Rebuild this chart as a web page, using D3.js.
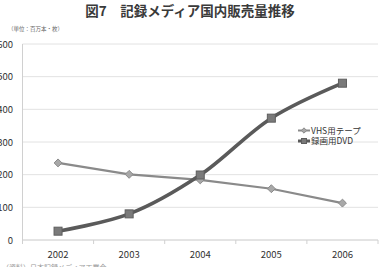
<!DOCTYPE html>
<html lang="ja">
<head>
<meta charset="UTF-8">
<title>図7 記録メディア国内販売量推移</title>
<script src="https://d3js.org/d3.v7.min.js"></script>
<style>
  html, body { margin: 0; padding: 0; background: #fff; }
  svg { display: block; font-family: "Noto Sans CJK JP", "Noto Sans", sans-serif; }
</style>
</head>
<body>
<div id="chart"></div>
<script>
const years = ["2002", "2003", "2004", "2005", "2006"];
const vhs = [236, 201, 184, 157, 113];
const dvd = [27, 80, 199, 373, 480];
const yTicks = [0, 100, 200, 300, 400, 500, 600];
const seriesNames = ["VHS用テープ", "録画用DVD"];

const width = 381, height = 267;
const margin = {top: 44, right: 3, bottom: 27, left: 22.5};

const svg = d3.select("#chart").append("svg")
    .attr("width", width)
    .attr("height", height);

// title
svg.append("text")
    .attr("x", 190).attr("y", 16)
    .attr("text-anchor", "middle")
    .attr("font-size", 13.5)
    .attr("font-weight", "bold")
    .attr("fill", "#3a3a3a")
    .text("図7　記録メディア国内販売量推移");

svg.append("text")
    .attr("x", 8).attr("y", 31)
    .attr("font-size", 5.5)
    .attr("fill", "#666")
    .text("（単位：百万本・枚）");

const x = d3.scaleBand()
    .domain(years)
    .range([margin.left, width - margin.right]);

const y = d3.scaleLinear()
    .domain([0, 600])
    .range([height - margin.bottom, margin.top]);

// grid lines
svg.append("g")
    .selectAll("line")
    .data(yTicks)
    .enter().append("line")
    .attr("x1", margin.left)
    .attr("x2", width - margin.right)
    .attr("y1", d => y(d))
    .attr("y2", d => y(d))
    .attr("stroke", d => d === 0 ? "#c8c8c8" : "#e2e2e2")
    .attr("stroke-width", 1);

// y axis line
svg.append("line")
    .attr("x1", margin.left).attr("x2", margin.left)
    .attr("y1", y(600)).attr("y2", y(0))
    .attr("stroke", "#d0d0d0");

// y labels (left edge clipped as in the source image)
svg.append("g")
    .selectAll("text")
    .data(yTicks)
    .enter().append("text")
    .attr("x", 13)
    .attr("y", d => y(d) + 3.5)
    .attr("text-anchor", "end")
    .attr("font-size", 9.5)
    .attr("fill", "#333")
    .text(d => d);

// x axis ticks at category boundaries
const bounds = years.map(d => x(d)).concat([x(years[years.length - 1]) + x.bandwidth()]);
svg.append("g")
    .selectAll("line")
    .data(bounds)
    .enter().append("line")
    .attr("x1", d => d).attr("x2", d => d)
    .attr("y1", y(0)).attr("y2", y(0) + 4)
    .attr("stroke", "#d0d0d0");

svg.append("g")
    .selectAll("text")
    .data(years)
    .enter().append("text")
    .attr("x", d => x(d) + x.bandwidth() / 2)
    .attr("y", y(0) + 18)
    .attr("text-anchor", "middle")
    .attr("font-size", 9.5)
    .attr("fill", "#333")
    .text(d => d);

const cx = (d, i) => x(years[i]) + x.bandwidth() / 2;

// VHS line
const vhsLine = d3.line().x(cx).y(d => y(d));
svg.append("path")
    .datum(vhs)
    .attr("d", vhsLine)
    .attr("fill", "none")
    .attr("stroke", "#8a8a8a")
    .attr("stroke-width", 2.2);

// DVD smoothed line
const dvdLine = d3.line().x(cx).y(d => y(d)).curve(d3.curveCatmullRom.alpha(0.5));
svg.append("path")
    .datum(dvd)
    .attr("d", dvdLine)
    .attr("fill", "none")
    .attr("stroke", "#5a5a5a")
    .attr("stroke-width", 3.6);

// VHS diamonds
const diamond = d3.symbol().type(d3.symbolDiamond2).size(40);
svg.append("g")
    .selectAll("path")
    .data(vhs)
    .enter().append("path")
    .attr("d", diamond)
    .attr("transform", (d, i) => `translate(${cx(d, i)},${y(d)})`)
    .attr("fill", "#a8a8a8")
    .attr("stroke", "#8a8a8a")
    .attr("stroke-width", 1);

// DVD squares
svg.append("g")
    .selectAll("rect")
    .data(dvd)
    .enter().append("rect")
    .attr("x", (d, i) => cx(d, i) - 4)
    .attr("y", d => y(d) - 4)
    .attr("width", 8).attr("height", 8)
    .attr("fill", "#7a7a7a")
    .attr("stroke", "#5e5e5e")
    .attr("stroke-width", 1);

// legend
const legend = svg.append("g").attr("transform", "translate(298,130.5)");
seriesNames.forEach((name, i) => {
    const g = legend.append("g").attr("transform", `translate(0,${i * 10.5})`);
    g.append("line")
        .attr("x1", 0).attr("x2", 12)
        .attr("stroke", i === 0 ? "#8a8a8a" : "#5a5a5a")
        .attr("stroke-width", i === 0 ? 2 : 3);
    if (i === 0) {
        g.append("path").attr("d", d3.symbol().type(d3.symbolDiamond2).size(18))
            .attr("transform", "translate(6,0)")
            .attr("fill", "#a8a8a8").attr("stroke", "#8a8a8a");
    } else {
        g.append("rect").attr("x", 3.5).attr("y", -2.5).attr("width", 5).attr("height", 5)
            .attr("fill", "#7a7a7a").attr("stroke", "#5e5e5e");
    }
    g.append("text")
        .attr("x", 13).attr("y", 3.2)
        .attr("font-size", 8.5)
        .attr("fill", "#333")
        .text(name);
});

// source note (mostly cut off at bottom)
svg.append("text")
    .attr("x", 2).attr("y", 270)
    .attr("font-size", 7)
    .attr("fill", "#999")
    .text("（資料）日本記録メディア工業会");
</script>
</body>
</html>
